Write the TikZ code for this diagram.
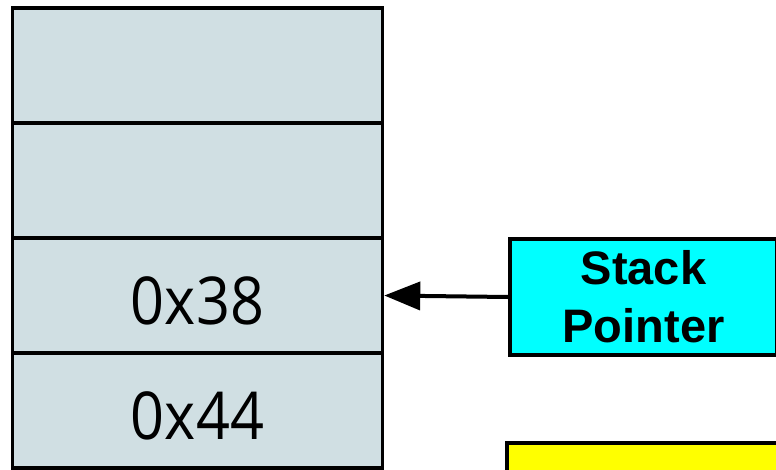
\documentclass[tikz,border=0pt]{standalone}
\usepackage{fontspec}
\newfontfamily\cellfont[FakeStretch=0.9]{Open Sans}
\newfontfamily\labfont{Liberation Sans}
\usetikzlibrary{arrows.meta}
\definecolor{stackfill}{RGB}{208,223,227}
\definecolor{spcyan}{RGB}{0,255,255}
\definecolor{ybfill}{RGB}{255,255,0}
\begin{document}
\begin{tikzpicture}[x=1pt,y=-1pt,
  cell/.style={draw=black, line width=3.5pt, fill=stackfill, rectangle, minimum width=370pt, minimum height=115pt, inner sep=0pt},
  celltext/.style={font=\cellfont\fontsize{66}{72}\selectfont, inner sep=0pt, yshift=-5pt},
  spbox/.style={draw=black, line width=3.5pt, fill=spcyan, rectangle, minimum width=267pt, minimum height=116pt, inner sep=0pt, align=center, font=\labfont\bfseries\fontsize{47}{58}\selectfont},
  ybox/.style={draw=black, line width=3.5pt, fill=ybfill, rectangle, minimum width=285pt, minimum height=80pt, inner sep=0pt}]
\useasboundingbox (0,0) rectangle (776,469);
\node[cell] (c1) at (197.5,65.5) {};
\node[cell] (c2) at (197.5,180.5) {};
\node[cell] (c3) at (197.5,295.5) {};
\node[cell] (c4) at (197.5,410.5) {};
\node[celltext] (t3) at (c3.center) {0x38};
\node[celltext] (t4) at (c4.center) {0x44};
\node[spbox] (sp) at (643.5,297) {Stack\\Pointer};
\node[ybox] (yb) at (649.5,483) {};
\draw[line width=4pt, -{Triangle[width=28pt,length=36pt]}] (sp.west) -- (c3.east);
\end{tikzpicture}
\end{document}
